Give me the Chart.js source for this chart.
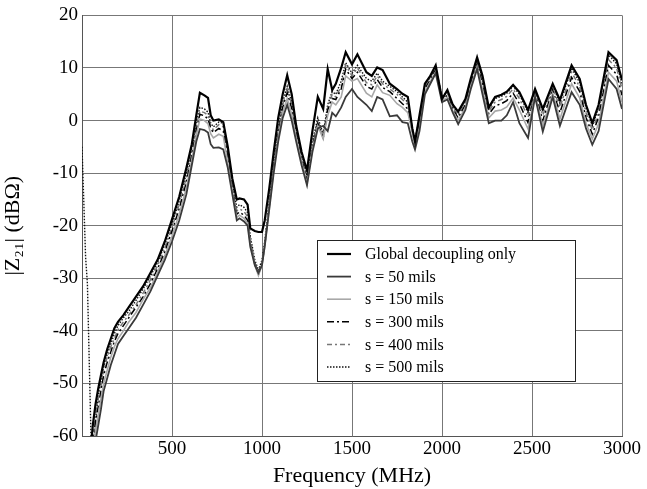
<!DOCTYPE html>
<html>
<head>
<meta charset="utf-8">
<script src="https://cdn.jsdelivr.net/npm/chart.js@4.4.1/dist/chart.umd.min.js"></script>
<style>
  html, body { margin: 0; padding: 0; background: #fff; }
  #wrap { width: 647px; height: 489px; position: relative; }
</style>
</head>
<body>
<div id="wrap"><canvas id="z21Chart"></canvas></div>
<script>
// frequency points (MHz)
const freq = [0, 20, 30,
  50, 60, 75, 90, 105, 120, 140, 160, 180, 200,
  230, 260, 300, 340, 380, 420, 460, 500, 540, 580,
  610, 635, 655, 680, 700, 715, 730, 760, 785, 810,
  835, 860, 875, 900, 920, 935, 960, 980, 1000, 1015,
  1040, 1065, 1090, 1115, 1140, 1165, 1190, 1220, 1250, 1280,
  1310, 1340, 1365, 1390, 1410, 1440, 1465, 1500, 1530, 1580,
  1610, 1640, 1670, 1710, 1750, 1780, 1810, 1835, 1850, 1875,
  1905, 1935, 1965, 2000, 2030, 2060, 2090, 2130, 2160, 2195,
  2225, 2260, 2295, 2330, 2360, 2395, 2430, 2478, 2517, 2560,
  2615, 2655, 2720, 2765, 2800, 2835, 2870, 2925, 2970, 3000];

const globalOnly = [null, null, null,
  -62, -58, -54, -51, -48.5, -46, -43.5, -41.5, -39.5, -38.3,
  -37, -35.5, -33.5, -31.5, -29, -26.5, -23, -18.8, -14.5, -9,
  -4.5, 1, 5.3, 4.8, 4.3, 1, 0, 0.2, -0.3, -5,
  -11, -15, -14.8, -15, -16, -20.5, -21, -21.2, -21.2, -19,
  -13, -6, 0.5, 5, 8.6, 5, -1, -6, -9.5, -2,
  4.5, 2.2, 9.8, 5.8, 7, 10, 13, 10.7, 12.6, 9.2,
  8.5, 10.1, 9.6, 7, 6, 5.1, 4.5, -1.5, -4, 1,
  7, 8.5, 10.5, 4.1, 5.8, 3, 1.7, 4.1, 8, 12,
  8.5, 2.5, 4.5, 4.9, 5.5, 6.8, 5.4, 2, 6, 2.2,
  7, 3.9, 10.5, 7.9, 3, -0.5, 3, 13, 11.5, 7.7];

const s50 = [null, null, null,
  -66, -64, -61, -58, -55, -51.5, -49, -46.5, -44.5, -42.5,
  -41, -39.5, -37.5, -35, -32.5, -29.5, -26.5, -23, -19, -14,
  -8.5, -4, -1.6, -1.8, -2.3, -4.5, -5.2, -5.1, -5.5, -9,
  -14, -19, -18.6, -19.2, -20, -24, -27.5, -29, -27.5, -24,
  -17, -10, -4, 0.5, 3, 0, -4, -8.5, -12.3, -6,
  -1.5, -1, -2, 1.5, 0.8, 2.5, 4.5, 6, 4.5, 3,
  1.8, 4.5, 4, 0.8, 1, -0.3, -0.5, -4, -5.5, -2,
  5, 7, 9, 3.5, 4, 1.5, -0.7, 2, 6, 9.8,
  5, -0.5, 0, 0, 1, 3.5, -0.5, -3.3, 4.5, -2.1,
  4.5, -1, 5.4, 3, -1.5, -4.6, -2, 7.9, 6, 2.2];

const s150 = [null, null, null,
  -65, -62, -59, -56, -53, -50, -47.5, -45, -43, -41.5,
  -40, -38.3, -36.5, -34, -31.8, -28.8, -25.7, -22, -17.8, -12.8,
  -7.5, -2.8, 0.3, 0, -0.6, -2.5, -3.3, -2.6, -3, -8,
  -13.6, -18.4, -18, -18.6, -19.5, -23.6, -27.5, -29.5, -27.5, -24,
  -16.7, -9.5, -3.2, 1.5, 4.2, 1.2, -3.2, -7.8, -12, -5.5,
  -1, -3.5, 1, 3.5, 3, 4.5, 8.5, 7.5, 8, 5.2,
  4.5, 6.8, 5.3, 4.8, 3.2, 2.5, 1.5, -2.2, -4.8, -1.2,
  5.5, 7.4, 9.3, 3.8, 4.4, 1.8, 0, 2.5, 6.5, 10.3,
  6, 0.5, 1.8, 2, 2.6, 4.3, 2, -1.6, 4.8, -1,
  5.2, 0.3, 7, 4.3, -0.5, -3.5, -0.6, 9.2, 7.5, 3.5];

const s300 = [null, null, null,
  -64, -61, -57.5, -54.5, -51.5, -48.5, -46, -44, -42, -40.5,
  -39, -37.5, -35.5, -33.5, -31, -28.2, -25, -21, -16.8, -11.7,
  -6.7, -1.8, 1.2, 0.9, 0.3, -1.5, -2.3, -1.5, -2, -7,
  -13.2, -17.8, -17.4, -18, -19, -23.2, -27.3, -29.3, -27.2, -23.8,
  -16.3, -9, -2.5, 2.5, 5.3, 2.3, -2.6, -7.3, -11.5, -5,
  -0.5, -3.3, 2, 4.2, 4, 6, 9.8, 8, 9.2, 6.5,
  6, 7.8, 6.3, 5.5, 4.2, 3.2, 2.2, -2, -4.3, -0.5,
  6, 7.8, 9.7, 4, 4.8, 2.2, 0.5, 3, 7, 10.8,
  6.8, 1.2, 2.8, 3.2, 3.8, 5.2, 3.2, -0.4, 5.2, 0,
  5.8, 1.5, 8.2, 5.5, 0.6, -2.6, 0.6, 10.5, 8.8, 4.8];

const s400 = [null, null, null,
  -63, -60, -56, -53, -50.5, -47.5, -45, -43, -41.5, -39.8,
  -38.3, -37, -35, -32.8, -30.3, -27.6, -24.3, -20.3, -16, -10.8,
  -6, -1, 1.8, 1.5, 1, -1, -1.8, -0.8, -1.2, -6.2,
  -12.6, -17.2, -16.8, -17.3, -18.3, -22.6, -27, -29, -27, -23.5,
  -16, -8.5, -2, 3, 6, 3, -2.2, -7, -11, -4.5,
  0, -3, 2.5, 5, 4.5, 6.5, 10.5, 8.5, 10, 7.2,
  6.8, 8.5, 7, 6, 5, 4, 3, -1.8, -4, 0,
  6.5, 8.2, 10, 4.2, 5.2, 2.5, 0.9, 3.5, 7.4, 11.2,
  7.5, 1.8, 3.5, 4, 4.6, 6, 4.2, 0.6, 5.5, 1,
  6.3, 2.5, 9.2, 6.4, 1.5, -1.8, 1.5, 11.6, 10, 6];

const s500 = [-5, -26, -31,
  -60, -65, -57, -52.5, -49.5, -47, -44.5, -42.5, -40.5, -39,
  -37.5, -36.3, -34.2, -32, -29.6, -27, -23.6, -19.6, -15.3, -10,
  -5.3, -0.2, 2.5, 2.2, 1.6, -0.5, -1.2, -0.3, -0.5, -5.5,
  -12, -16.5, -16, -16.5, -17.5, -22, -26.5, -28.5, -26.5, -23,
  -15.5, -8, -1.5, 3.5, 6.5, 3.5, -1.8, -6.5, -10.5, -4,
  0.5, -2.5, 3, 5.5, 5, 7.5, 11, 9, 10.5, 8,
  7.5, 9, 7.5, 6.5, 5.5, 4.5, 3.5, -1.5, -3.5, 0.5,
  6.8, 8.5, 10.2, 4.5, 5.6, 2.8, 1.3, 3.8, 7.8, 11.5,
  8, 2.2, 4.2, 4.6, 5.2, 6.5, 5, 1.5, 5.8, 1.8,
  6.7, 3.3, 10, 7.2, 2.4, -1, 2.4, 12.5, 10.8, 7];

const seriesNames = ['Global decoupling only', 's = 50 mils', 's = 150 mils',
  's = 300 mils', 's = 400 mils', 's = 500 mils'];
const seriesValues = [globalOnly, s50, s150, s300, s400, s500];
const xTicks = [0, 500, 1000, 1500, 2000, 2500, 3000];
const yTicks = [-60, -50, -40, -30, -20, -10, 0, 10, 20];

const styles = [
  { color: '#000', width: 2.2, dash: [] },
  { color: '#3a3a3a', width: 1.8, dash: [] },
  { color: '#a8a8a8', width: 1.6, dash: [] },
  { color: '#000', width: 1.5, dash: [7, 3, 2, 3] },
  { color: '#777', width: 1.5, dash: [5, 3, 2, 3] },
  { color: '#111', width: 1.4, dash: [1.5, 1.5] }
];

const serif = "'Liberation Serif', 'Times New Roman', serif";

const datasets = seriesNames.map((name, i) => ({
  label: name,
  data: freq.map((f, k) => ({ x: f, y: seriesValues[i][k] })),
  borderColor: styles[i].color,
  borderWidth: styles[i].width,
  borderDash: styles[i].dash,
  pointRadius: 0,
  tension: 0,
  fill: false,
  spanGaps: false
}));

// legend box drawn inside the plot, over the curves
const boxLegend = {
  id: 'boxLegend',
  afterDatasetsDraw(chart) {
    const c = chart.ctx;
    const x0 = 317, y0 = 240, w = 258, h = 141;
    c.save();
    c.fillStyle = '#fff';
    c.fillRect(x0, y0, w, h);
    c.strokeStyle = '#222';
    c.lineWidth = 1;
    c.strokeRect(x0 + 0.5, y0 + 0.5, w, h);
    c.font = '16px ' + serif;
    c.textBaseline = 'middle';
    seriesNames.forEach((name, i) => {
      const y = y0 + 14 + i * 22.6;
      c.strokeStyle = styles[i].color;
      c.lineWidth = styles[i].width;
      c.setLineDash(styles[i].dash);
      c.beginPath();
      c.moveTo(x0 + 10, y);
      c.lineTo(x0 + 34, y);
      c.stroke();
      c.setLineDash([]);
      c.fillStyle = '#000';
      c.fillText(name, x0 + 48, y + 1);
    });
    c.restore();
  }
};

new Chart(document.getElementById('z21Chart'), {
  type: 'line',
  data: { datasets: datasets },
  options: {
    responsive: true,
    maintainAspectRatio: false,
    animation: false,
    layout: { padding: { top: 5, right: 25, bottom: 0, left: 0 } },
    plugins: {
      legend: { display: false },
      tooltip: { enabled: false }
    },
    scales: {
      x: {
        type: 'linear',
        min: 0,
        max: 3000,
        afterBuildTicks: (scale) => { scale.ticks = xTicks.map(v => ({ value: v })); },
        afterFit: (scale) => { scale.height = 53; },
        ticks: {
          color: '#000',
          font: { family: serif, size: 19 },
          maxRotation: 0,
          autoSkip: false,
          padding: 2,
          callback: (v) => v === 0 ? '' : v
        },
        grid: { color: '#777', lineWidth: 1, drawTicks: false },
        border: { color: '#555' },
        title: {
          display: true,
          text: 'Frequency (MHz)',
          color: '#000',
          font: { family: serif, size: 22 },
          padding: { top: 0, bottom: 0 }
        }
      },
      y: {
        min: -60,
        max: 20,
        afterBuildTicks: (scale) => { scale.ticks = yTicks.map(v => ({ value: v })); },
        afterFit: (scale) => { scale.width = 82; },
        ticks: {
          color: '#000',
          font: { family: serif, size: 19 },
          padding: 4
        },
        grid: { color: '#777', lineWidth: 1, drawTicks: false },
        border: { color: '#555' },
        title: {
          display: true,
          text: '|Z\u2082\u2081| (dB\u03A9)',
          color: '#000',
          font: { family: serif, size: 22 },
          padding: { top: 0, bottom: 2 }
        }
      }
    }
  },
  plugins: [boxLegend]
});
</script>
</body>
</html>
